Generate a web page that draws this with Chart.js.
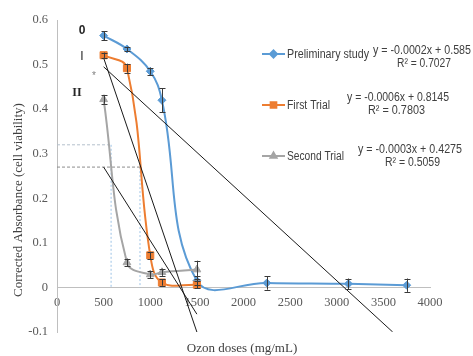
<!DOCTYPE html>
<html>
<head>
<meta charset="utf-8">
<script src="https://cdn.jsdelivr.net/npm/chart.js@4.4.1/dist/chart.umd.min.js"></script>
<style>
  html, body { margin: 0; padding: 0; background: #fff; }
  #wrap { width: 473px; height: 356px; }
</style>
</head>
<body>
<div id="wrap"><canvas id="ozoneChart"></canvas></div>
<script>
// values (absorbance vs ozone dose)
const prelimDoses = [500, 750, 1000, 1125, 1500, 2250, 3125, 3750];
const prelimValues = [0.565, 0.535, 0.485, 0.42, 0.015, 0.01, 0.008, 0.005];
const prelimErrors = [0.01, 0.005, 0.008, 0.027, 0.01, 0.015, 0.012, 0.015];

const firstDoses = [500, 750, 1000, 1125, 1500];
const firstValues = [0.521, 0.492, 0.072, 0.011, 0.006];
const firstErrors = [0.006, 0.01, 0.008, 0.007, 0.008];

const secondDoses = [500, 750, 1000, 1125, 1500];
const secondValues = [0.422, 0.056, 0.029, 0.034, 0.04];
const secondErrors = [0.01, 0.008, 0.008, 0.008, 0.02];

// linear trendline end points
const prelimTrendX = [500, 3600];
const prelimTrendY = [0.495, -0.1];
const firstTrendX = [500, 1500];
const firstTrendY = [0.515, -0.1];
const secondTrendX = [500, 1500];
const secondTrendY = [0.27, -0.06];

// dashed read-off guides
const guideDoses = [580, 890];
const guideLevels = [0.32, 0.27];

const seriesNames = ['Preliminary study', 'First Trial', 'Second Trial'];
const equations = ['y = -0.0002x + 0.585', 'y = -0.0006x + 0.8145', 'y = -0.0003x + 0.4275'];
const rSquared = ['R\u00b2 = 0.7027', 'R\u00b2 = 0.7803', 'R\u00b2 = 0.5059'];

const xTicks = [0, 500, 1000, 1500, 2000, 2500, 3000, 3500, 4000];

const toPoints = (xs, ys) => xs.map((x, i) => ({ x: x, y: ys[i] }));

const series = function (name, xs, ys, errs, color, style, radius, order) {
    return {
        label: name,
        data: toPoints(xs, ys),
        errors: errs,
        showLine: true,
        borderColor: color,
        backgroundColor: color,
        borderWidth: 2,
        tension: 0.4,
        pointStyle: style,
        pointRadius: radius,
        pointBorderWidth: 1,
        order: order
    };
};

const trend = function (xs, ys) {
    return {
        data: toPoints(xs, ys),
        showLine: true,
        borderColor: '#1a1a1a',
        borderWidth: 1,
        pointRadius: 0,
        tension: 0,
        order: 0
    };
};

const guideSets = [];
guideDoses.forEach(function (d, i) {
    guideSets.push({
        data: [{ x: 0, y: guideLevels[i] }, { x: d, y: guideLevels[i] }],
        showLine: true, borderColor: i === 0 ? '#b4c0cc' : '#8c8c8c', borderWidth: 1,
        borderDash: [3, 2], pointRadius: 0, order: 9
    });
    guideSets.push({
        data: [{ x: d, y: guideLevels[i] }, { x: d, y: 0 }],
        showLine: true, borderColor: '#9dc3e6', borderWidth: 1,
        borderDash: [2, 2], pointRadius: 0, order: 9
    });
});

const errorBars = {
    id: 'errorBars',
    afterDatasetsDraw(chart) {
        const ctx = chart.ctx;
        const ys = chart.scales.y;
        ctx.save();
        ctx.strokeStyle = '#3a3a3a';
        ctx.lineWidth = 1;
        chart.data.datasets.forEach(function (ds, di) {
            if (!ds.errors) return;
            const meta = chart.getDatasetMeta(di);
            meta.data.forEach(function (pt, i) {
                const v = ds.data[i].y, e = ds.errors[i];
                const top = ys.getPixelForValue(v + e);
                const bot = ys.getPixelForValue(v - e);
                const x = Math.round(pt.x) + 0.5;
                ctx.beginPath();
                ctx.moveTo(x, top); ctx.lineTo(x, bot);
                ctx.moveTo(x - 3, Math.round(top) + 0.5); ctx.lineTo(x + 3, Math.round(top) + 0.5);
                ctx.moveTo(x - 3, Math.round(bot) + 0.5); ctx.lineTo(x + 3, Math.round(bot) + 0.5);
                ctx.stroke();
            });
        });
        ctx.restore();
    }
};

// draw text squeezed to span x0..x1 (the original used a narrow font)
function spanText(ctx, text, x0, x1, y) {
    const w = ctx.measureText(text).width;
    const k = Math.min(1, (x1 - x0) / w);
    ctx.save();
    ctx.translate(x0, y);
    ctx.scale(k, 1);
    ctx.textAlign = 'left';
    ctx.fillText(text, 0, 0);
    ctx.restore();
}

const annotations = {
    id: 'annotations',
    afterDraw(chart) {
        const ctx = chart.ctx;
        ctx.save();
        ctx.fillStyle = '#404040';
        ctx.textAlign = 'center';
        ctx.textBaseline = 'middle';

        // axis titles
        ctx.font = '13px "Liberation Serif", "Times New Roman", serif';
        ctx.fillText('Ozon doses (mg/mL)', 242, 349);
        ctx.save();
        ctx.translate(19, 200);
        ctx.rotate(-Math.PI / 2);
        ctx.fillText('Corrected Absorbance (cell viability)', 0, 0);
        ctx.restore();

        // group labels beside the curves
        ctx.fillStyle = '#262626';
        ctx.font = 'bold 12px "Liberation Sans", Arial, sans-serif';
        ctx.fillText('0', 82, 31);
        ctx.font = '12px "Liberation Sans", Arial, sans-serif';
        ctx.fillText('I', 82, 57);
        ctx.font = 'bold 12px "Liberation Serif", serif';
        ctx.fillText('II', 77, 93);
        ctx.fillStyle = '#808080';
        ctx.font = '10px "Liberation Sans", Arial, sans-serif';
        ctx.fillText('*', 94, 76);

        // legend with trendline equations
        const colors = ['#5b9bd5', '#ed7d31', '#a5a5a5'];
        const styles = ['rectRot', 'rect', 'triangle'];
        const rowY = [54, 105, 156];
        const nameEnd = [369, 330, 344];
        const eqSpan = [[373, 471], [347, 449], [358, 462]];
        const eqY = [51, 98, 150];
        const rSpan = [[397, 451], [368, 425], [385, 440]];
        ctx.font = '12px "Liberation Sans", Arial, sans-serif';
        for (let i = 0; i < 3; i++) {
            ctx.strokeStyle = colors[i];
            ctx.lineWidth = 2;
            ctx.beginPath();
            ctx.moveTo(262, rowY[i]); ctx.lineTo(285, rowY[i]);
            ctx.stroke();
            ctx.fillStyle = colors[i];
            Chart.helpers.drawPoint(ctx, { pointStyle: styles[i], radius: i === 1 ? 4 : 3.5, borderWidth: 1, rotation: 0 }, 273.5, rowY[i]);
            ctx.fill();
            ctx.fillStyle = '#404040';
            spanText(ctx, seriesNames[i], 287, nameEnd[i], rowY[i] + 1);
            spanText(ctx, equations[i], eqSpan[i][0], eqSpan[i][1], eqY[i]);
            spanText(ctx, rSquared[i], rSpan[i][0], rSpan[i][1], eqY[i] + 13);
        }
        ctx.restore();
    }
};

const tickFont = { family: '"Liberation Serif", "Times New Roman", serif', size: 12.5 };

new Chart(document.getElementById('ozoneChart').getContext('2d'), {
    type: 'scatter',
    data: {
        datasets: [
            series(seriesNames[0], prelimDoses, prelimValues, prelimErrors, '#5b9bd5', 'rectRot', 4, 3),
            series(seriesNames[1], firstDoses, firstValues, firstErrors, '#ed7d31', 'rect', 5, 2),
            series(seriesNames[2], secondDoses, secondValues, secondErrors, '#a5a5a5', 'triangle', 4.5, 1),
            trend(prelimTrendX, prelimTrendY),
            trend(firstTrendX, firstTrendY),
            trend(secondTrendX, secondTrendY)
        ].concat(guideSets)
    },
    options: {
        responsive: true,
        maintainAspectRatio: false,
        animation: false,
        layout: { padding: { left: 0, right: 43, top: 20, bottom: 24 } },
        plugins: {
            legend: { display: false },
            tooltip: { enabled: false }
        },
        scales: {
            x: {
                type: 'linear',
                min: 0,
                max: 4000,
                position: { y: 0 },
                grid: { display: false, drawTicks: false },
                border: { color: '#bfbfbf' },
                afterBuildTicks: (s) => { s.ticks = xTicks.map(v => ({ value: v })); },
                ticks: {
                    font: tickFont, color: '#595959', padding: 8, maxRotation: 0, autoSkip: false,
                    callback: (v) => String(v)
                }
            },
            y: {
                min: -0.1,
                max: 0.6,
                grid: { display: false, drawTicks: false },
                border: { color: '#bfbfbf' },
                afterFit: (s) => { s.width = 57; },
                ticks: {
                    stepSize: 0.1, font: tickFont, color: '#595959', padding: 9,
                    callback: (v) => String(Math.round(v * 10) / 10)
                }
            }
        }
    },
    plugins: [errorBars, annotations]
});
</script>
</body>
</html>
